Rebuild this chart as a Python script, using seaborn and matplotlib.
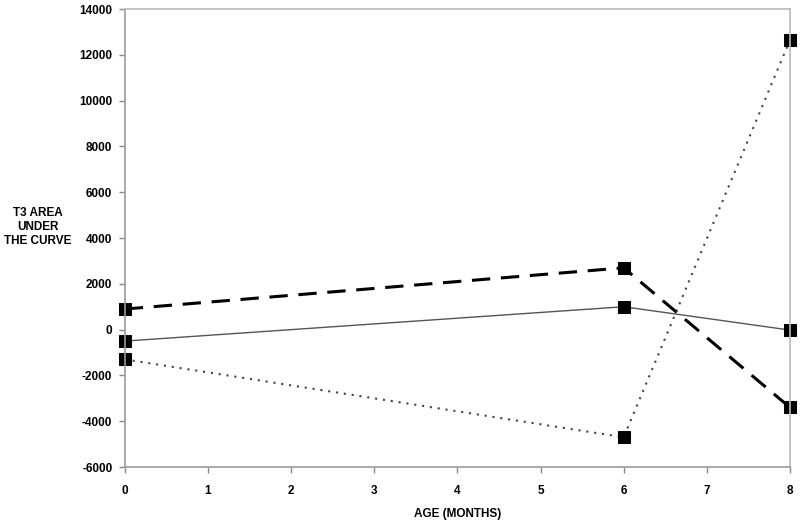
import pandas as pd
import matplotlib.pyplot as plt
import seaborn as sns

# values
age = [0, 6, 8]
dashed_vals = [900, 2700, -3400]
solid_vals = [-500, 1000, -20]
dotted_vals = [-1300, -4700, 12650]

df = pd.DataFrame({
    "age": age * 3,
    "auc": dashed_vals + solid_vals + dotted_vals,
    "series": ["dashed"] * 3 + ["solid"] * 3 + ["dotted"] * 3,
})

sns.set_style("white")
plt.rcParams['font.family'] = ['Liberation Sans', 'DejaVu Sans']
plt.rcParams['axes.unicode_minus'] = False

fig = plt.figure(figsize=(8, 5.21), dpi=100)
ax = fig.add_axes([0.156, 0.1036, 0.8315, 0.879])

styles = {
    "dashed": dict(color="black", linewidth=2.2, dashes=(6, 3.5)),
    "solid": dict(color="#555555", linewidth=1.0),
    "dotted": dict(color="#444444", linewidth=1.5, dashes=(1, 2.8)),
}
for name, kw in styles.items():
    sub = df[df["series"] == name]
    line_kw = {k: v for k, v in kw.items() if k != "dashes"}
    sns.lineplot(data=sub, x="age", y="auc", ax=ax, marker="s", markersize=8,
                 markerfacecolor="black", markeredgecolor="black",
                 legend=False, **line_kw)
    ln = ax.lines[-1]
    ln.set_clip_on(False)
    if "dashes" in kw:
        ln.set_dashes(kw["dashes"])

ax.set_xlim(0, 8)
ax.set_ylim(-6000, 14000)
ax.set_xticks(range(0, 9))
ax.set_yticks(range(-6000, 14001, 2000))
for s in ax.spines.values():
    s.set_color("#999999")
    s.set_linewidth(1.2)
ax.spines["top"].set_color("#bbbbbb")
ax.spines["right"].set_color("#bbbbbb")
ax.tick_params(axis="both", direction="out", length=4, width=1, color="#888888",
               labelsize=8.5, pad=5, labelcolor="black", bottom=True, left=True)
ax.tick_params(axis="x", pad=9)
for lab in ax.get_xticklabels() + ax.get_yticklabels():
    lab.set_fontweight("bold")

ax.set_xlabel("AGE (MONTHS)", fontsize=8.5, fontweight="bold", labelpad=8,
              color="black")
ax.set_ylabel("")
fig.text(0.047, 0.564, "T3 AREA\nUNDER\nTHE CURVE", ha="center", va="center",
         fontsize=8.5, fontweight="bold", linespacing=1.2, color="black")

fig.savefig("out.png", dpi=100)
